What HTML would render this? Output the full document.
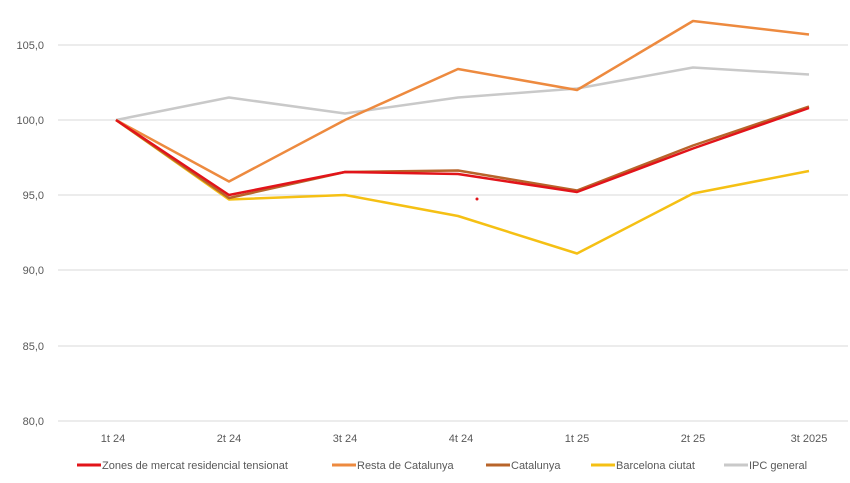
<!DOCTYPE html>
<html><head><meta charset="utf-8"><style>
body{margin:0;background:#fff}
text{font-family:"Liberation Sans Narrow","Liberation Sans",sans-serif;font-size:11px;fill:#595959}
</style></head><body>
<svg width="850" height="478" xmlns="http://www.w3.org/2000/svg">
<g stroke="#d9d9d9" stroke-width="1">
<line x1="58" x2="848" y1="45" y2="45"/><line x1="58" x2="848" y1="120" y2="120"/>
<line x1="58" x2="848" y1="195" y2="195"/><line x1="58" x2="848" y1="270" y2="270"/>
<line x1="58" x2="848" y1="346" y2="346"/><line x1="58" x2="848" y1="421" y2="421"/>
</g>
<g text-anchor="end">
<text x="44" y="49">105,0</text><text x="44" y="124">100,0</text><text x="44" y="199">95,0</text>
<text x="44" y="274">90,0</text><text x="44" y="350">85,0</text><text x="44" y="425">80,0</text>
</g>
<g text-anchor="middle">
<text x="113" y="442">1t 24</text><text x="229" y="442">2t 24</text><text x="345" y="442">3t 24</text>
<text x="461" y="442">4t 24</text><text x="577" y="442">1t 25</text><text x="693" y="442">2t 25</text>
<text x="809" y="442">3t 2025</text>
</g>
<g fill="none" stroke-width="2.5" stroke-linejoin="round">
<polyline stroke="#c9c9c9" points="116,120 229,97.5 345,113.5 458,97.5 577,88.5 693,67.5 809,74.5"/>
<polyline stroke="#ed8a3f" points="116,120 229,181.5 345,120 458,69 577,90 693,21 809,34.5"/>
<polyline stroke="#f5c014" points="116,120 229,199.5 345,195 458,216 577,253.5 693,193.5 809,171"/>
<polyline stroke="#b8642a" points="116,120 229,198 345,172 458,170.5 577,190.5 693,145.5 809,106.5"/>
<polyline stroke="#e2141a" points="116,120 229,195 345,172 458,174 577,192 693,148.5 809,108"/>
</g>
<circle cx="477" cy="199" r="1.5" fill="#e2141a"/>
<g stroke-width="3">
<line x1="77" x2="101" y1="465" y2="465" stroke="#e2141a"/>
<line x1="332" x2="356" y1="465" y2="465" stroke="#ed8a3f"/>
<line x1="486" x2="510" y1="465" y2="465" stroke="#b8642a"/>
<line x1="591" x2="615" y1="465" y2="465" stroke="#f5c014"/>
<line x1="724" x2="748" y1="465" y2="465" stroke="#c9c9c9"/>
</g>
<text x="102" y="469">Zones de mercat residencial tensionat</text>
<text x="357" y="469">Resta de Catalunya</text>
<text x="511" y="469">Catalunya</text>
<text x="616" y="469">Barcelona ciutat</text>
<text x="749" y="469">IPC general</text>
</svg>
</body></html>
